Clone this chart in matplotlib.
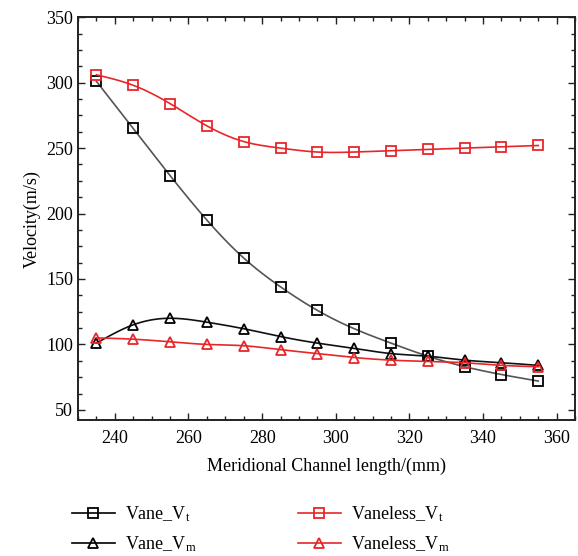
import numpy as np
import matplotlib
matplotlib.use("Agg")
import matplotlib.pyplot as plt
from matplotlib.ticker import MultipleLocator

# ── Data ──────────────────────────────────────────────────────────────────
length_mm = [235, 245, 255, 265, 275, 285, 295, 305, 315, 325, 335, 345, 355]
vane_vt = [301, 265, 229, 195, 166, 144, 126, 112, 101, 91, 83, 77, 72]
vane_vm = [101, 115, 120, 117, 112, 106, 101, 97, 93, 91, 88, 86, 84]
vaneless_vt = [306, 298, 284, 267, 255, 250, 247, 247, 248, 249, 250, 251, 252]
vaneless_vm = [105, 104, 102, 100, 99, 96, 93, 90, 88, 87, 86, 84, 83]

x_ticks = [240, 260, 280, 300, 320, 340, 360]
y_ticks = [50, 100, 150, 200, 250, 300, 350]


def smooth(x, y, n=200):
    """Natural cubic spline, only used to draw the connecting curve."""
    x = np.asarray(x, float)
    y = np.asarray(y, float)
    k = len(x)
    h = np.diff(x)
    A = np.zeros((k, k))
    b = np.zeros(k)
    A[0, 0] = A[-1, -1] = 1
    for i in range(1, k - 1):
        A[i, i - 1] = h[i - 1]
        A[i, i] = 2 * (h[i - 1] + h[i])
        A[i, i + 1] = h[i]
        b[i] = 6 * ((y[i + 1] - y[i]) / h[i] - (y[i] - y[i - 1]) / h[i - 1])
    m = np.linalg.solve(A, b)
    xs = np.linspace(x[0], x[-1], n)
    idx = np.clip(np.searchsorted(x, xs) - 1, 0, k - 2)
    x0, x1 = x[idx], x[idx + 1]
    hh = x1 - x0
    t0, t1 = x1 - xs, xs - x0
    ys = (m[idx] * t0**3 + m[idx + 1] * t1**3) / (6 * hh) \
        + (y[idx] / hh - m[idx] * hh / 6) * t0 \
        + (y[idx + 1] / hh - m[idx + 1] * hh / 6) * t1
    return xs, ys


plt.rcParams["font.family"] = ["Liberation Serif", "DejaVu Serif"]
plt.rcParams["mathtext.fontset"] = "custom"
plt.rcParams["mathtext.rm"] = "Liberation Serif"

RED = "#e8262a"
# (values, marker, curve colour, marker/legend colour, label)
series = [
    (vane_vt, "s", "#555555", "black", "Vane_$\\mathregular{V_t}$"),
    (vane_vm, "^", "#111111", "black", "Vane_$\\mathregular{V_m}$"),
    (vaneless_vt, "s", RED, RED, "Vaneless_$\\mathregular{V_t}$"),
    (vaneless_vm, "^", RED, RED, "Vaneless_$\\mathregular{V_m}$"),
]

fig = plt.figure(figsize=(5.78, 5.56), dpi=100)
ax = fig.add_axes([0.135, 0.244, 0.86, 0.725])

handles = []
for vals, mk, lc, mc, label in series:
    xs, ys = smooth(length_mm, vals)
    ax.plot(xs, ys, color=lc, linewidth=1.2)
    ax.plot(length_mm, vals, linestyle="none", marker=mk, markersize=7.5,
            markerfacecolor="none", markeredgecolor=mc, markeredgewidth=1.3)
    h, = ax.plot([], [], color=mc, linewidth=1.2, marker=mk, markersize=7.5,
                 markerfacecolor="none", markeredgecolor=mc, markeredgewidth=1.3,
                 label=label)
    handles.append(h)

ax.set_xlim(230, 365)
ax.set_ylim(42, 350)
ax.set_xticks(x_ticks)
ax.set_yticks(y_ticks)
ax.xaxis.set_minor_locator(MultipleLocator(5))
ax.yaxis.set_minor_locator(MultipleLocator(12.5))
ax.tick_params(which="both", direction="in", top=True, right=True,
               labelsize=13, width=1.0, color="#222222")
ax.tick_params(axis="x", which="major", pad=7)
ax.tick_params(which="major", length=5)
ax.tick_params(which="minor", length=3)
for sp in ax.spines.values():
    sp.set_linewidth(1.4)
    sp.set_color("#222222")

ax.set_xlabel("Meridional Channel length/(mm)", fontsize=13, labelpad=8)
ax.set_ylabel("Velocity(m/s)", fontsize=13, labelpad=4)

fig.legend(handles=handles, loc="lower left", bbox_to_anchor=(0.124, 0.004),
           ncol=2, frameon=False, fontsize=13, handlelength=2.4,
           columnspacing=5.6, labelspacing=0.55, handletextpad=0.55,
           borderpad=0, borderaxespad=0, markerscale=0.9)

fig.savefig("out.png", dpi=100)
